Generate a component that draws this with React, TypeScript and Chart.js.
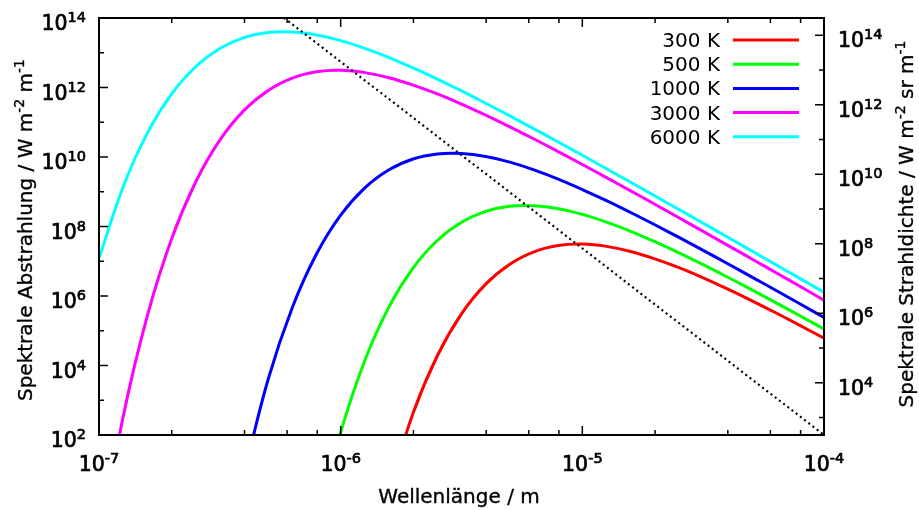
import React, { useEffect, useRef } from 'react';
import { Chart, registerables } from 'chart.js';

Chart.register(...registerables);

// Wellenlängen in m, zehn Stützstellen je Dekade von 1e-7 bis 1e-4
const wavelengths = [
  1.0e-7, 1.259e-7, 1.585e-7, 1.995e-7, 2.512e-7, 3.162e-7, 3.981e-7, 5.012e-7, 6.31e-7, 7.943e-7,
  1.0e-6, 1.259e-6, 1.585e-6, 1.995e-6, 2.512e-6, 3.162e-6, 3.981e-6, 5.012e-6, 6.31e-6, 7.943e-6,
  1.0e-5, 1.259e-5, 1.585e-5, 1.995e-5, 2.512e-5, 3.162e-5, 3.981e-5, 5.012e-5, 6.31e-5, 7.943e-5,
  1.0e-4,
];

const temperatureLabels = ['300 K', '500 K', '1000 K', '3000 K', '6000 K'];
const curveColors = ['#ff0000', '#00ff00', '#0000ff', '#ff00ff', '#00ffff'];

// Spektrale Abstrahlung in W m^-2 m^-1 (null = unterhalb des Diagramms)
const exitance300K = [
  null, null, null, null, null, null, null, null, null, null,
  null, null, 2.70, 4.31e2, 1.91e4, 3.06e5, 2.19e6, 8.26e6, 1.87e7, 2.83e7,
  3.12e7, 2.68e7, 1.91e7, 1.17e7, 6.52e6, 3.33e6, 1.60e6, 7.38e5, 3.29e5, 1.43e5,
  6.08e4,
];
const exitance500K = [
  null, null, null, null, null, null, null, null, null, 2.19e-1,
  1.19e2, 1.40e4, 4.88e5, 6.46e6, 3.96e7, 1.32e8, 2.72e8, 3.81e8, 3.95e8, 3.25e8,
  2.23e8, 1.34e8, 7.28e7, 3.66e7, 1.75e7, 7.98e6, 3.53e6, 1.52e6, 6.47e5, 2.71e5,
  1.12e5,
];
const exitance1000K = [
  null, null, null, null, null, null, 7.53, 4.03e3, 4.67e5, 1.61e7,
  2.11e8, 1.29e9, 4.28e9, 8.75e9, 1.22e10, 1.26e10, 1.04e10, 7.11e9, 4.27e9, 2.31e9,
  1.16e9, 5.55e8, 2.53e8, 1.12e8, 4.84e7, 2.06e7, 8.59e6, 3.56e6, 1.46e6, 5.96e5,
  2.42e5,
];
const exitance3000K = [
  5.55e-2, 3.37e2, 2.70e5, 4.31e7, 1.91e9, 3.06e10, 2.19e11, 8.26e11, 1.87e12, 2.83e12,
  3.12e12, 2.68e12, 1.91e12, 1.17e12, 6.52e11, 3.33e11, 1.60e11, 7.38e10, 3.29e10, 1.43e10,
  6.08e9, 2.55e9, 1.06e9, 4.36e8, 1.78e8, 7.23e7, 2.92e7, 1.18e7, 4.74e6, 1.90e6,
  7.62e5,
];
const exitance6000K = [
  1.19e7, 1.40e9, 4.88e10, 6.46e11, 3.96e12, 1.32e13, 2.72e13, 3.81e13, 3.95e13, 3.25e13,
  2.23e13, 1.34e13, 7.28e12, 3.66e12, 1.75e12, 7.98e11, 3.53e11, 1.52e11, 6.47e10, 2.71e10,
  1.12e10, 4.61e9, 1.88e9, 7.62e8, 3.08e8, 1.24e8, 4.99e7, 2.00e7, 8.02e6, 3.21e6,
  1.28e6,
];
const exitanceSeries = [exitance300K, exitance500K, exitance1000K, exitance3000K, exitance6000K];

// Gepunktete Linie durch die Maxima
const maximaLineLambda = [5.83e-7, 1.0e-4];
const maximaLineExitance = [1.0e14, 1.0e2];

// Achsen
const xRange = [1e-7, 1e-4];
const yRange = [1e2, 1e14];
const xDecades = [-7, -6, -5, -4];
const xMinorMantissas = [2, 4, 6, 8];
const yLeftTickDecades = [2, 3, 4, 5, 6, 7, 8, 9, 10, 11, 12, 13, 14];
const yLeftLabelDecades = [2, 4, 6, 8, 10, 12, 14];
const yRightTickDecades = [3, 4, 5, 6, 7, 8, 9, 10, 11, 12, 13, 14];
const yRightLabelDecades = [4, 6, 8, 10, 12, 14];

const xTitle = 'Wellenlänge / m';
type Run = { t: string; sup?: boolean };
const leftTitle: Run[] = [
  { t: 'Spektrale Abstrahlung / W m' }, { t: '-2', sup: true }, { t: ' m' }, { t: '-1', sup: true },
];
const rightTitle: Run[] = [
  { t: 'Spektrale Strahldichte / W m' }, { t: '-2', sup: true }, { t: ' sr m' }, { t: '-1', sup: true },
];

const FONT = '"DejaVu Sans", sans-serif';

type TextStyle = { size: number; supSize: number; raise: number; stroke: number };
const titleStyle: TextStyle = { size: 20, supSize: 14, raise: 8, stroke: 0.35 };
const legendStyle: TextStyle = { size: 20, supSize: 14, raise: 8, stroke: 0 };
const tickStyle: TextStyle = { size: 20.5, supSize: 14.5, raise: 8, stroke: 0.7 };

function drawRuns(
  ctx: CanvasRenderingContext2D,
  runs: Run[],
  x: number,
  y: number,
  align: 'left' | 'center' | 'right',
  st: TextStyle,
) {
  const fonts = runs.map((r) => `${r.sup ? st.supSize : st.size}px ${FONT}`);
  const widths = runs.map((r, i) => {
    ctx.font = fonts[i];
    return ctx.measureText(r.t).width;
  });
  const total = widths.reduce((s, w) => s + w, 0);
  let cx = align === 'left' ? x : align === 'right' ? x - total : x - total / 2;
  ctx.textAlign = 'left';
  ctx.textBaseline = 'alphabetic';
  ctx.fillStyle = '#000';
  ctx.strokeStyle = '#000';
  ctx.lineWidth = st.stroke;
  ctx.lineJoin = 'round';
  runs.forEach((r, i) => {
    ctx.font = fonts[i];
    const ty = r.sup ? y - st.raise : y;
    ctx.fillText(r.t, cx, ty);
    if (st.stroke > 0) ctx.strokeText(r.t, cx, ty);
    cx += widths[i];
  });
}

const powerLabel = (d: number): Run[] => [{ t: '10' }, { t: String(d), sup: true }];

const framePlugin = {
  id: 'gnuplotFrame',
  afterDatasetsDraw(chart: any) {
    const { ctx, chartArea: a } = chart;
    const sx = chart.scales.x;
    const sy = chart.scales.y;
    const sy2 = chart.scales.y2;
    ctx.save();
    ctx.strokeStyle = '#000';
    ctx.fillStyle = '#000';
    const seg = (x1: number, y1: number, x2: number, y2: number) => {
      ctx.beginPath();
      ctx.moveTo(x1, y1);
      ctx.lineTo(x2, y2);
      ctx.stroke();
    };

    // Teilstriche nach innen
    ctx.lineWidth = 1.5;
    xDecades.forEach((d, i) => {
      const p = sx.getPixelForValue(Math.pow(10, d));
      seg(p, a.bottom, p, a.bottom - 9);
      seg(p, a.top, p, a.top + 9);
      if (i < xDecades.length - 1) {
        xMinorMantissas.forEach((m) => {
          const q = sx.getPixelForValue(m * Math.pow(10, d));
          seg(q, a.bottom, q, a.bottom - 5);
          seg(q, a.top, q, a.top + 5);
        });
      }
    });
    yLeftTickDecades.forEach((d) => {
      const p = sy.getPixelForValue(Math.pow(10, d));
      seg(a.left, p, a.left + (d % 2 === 0 ? 9 : 5), p);
    });
    yRightTickDecades.forEach((d) => {
      const p = sy2.getPixelForValue(Math.pow(10, d));
      seg(a.right, p, a.right - (d % 2 === 0 ? 9 : 5), p);
    });

    // Rahmen
    ctx.lineWidth = 2;
    ctx.strokeRect(a.left, a.top, a.right - a.left, a.bottom - a.top);

    // Achsenbeschriftung
    xDecades.forEach((d) => {
      drawRuns(ctx, powerLabel(d), sx.getPixelForValue(Math.pow(10, d)), 471, 'center', tickStyle);
    });
    yLeftLabelDecades.forEach((d) => {
      drawRuns(ctx, powerLabel(d), a.left - 13, sy.getPixelForValue(Math.pow(10, d)) + 12, 'right', tickStyle);
    });
    yRightLabelDecades.forEach((d) => {
      drawRuns(ctx, powerLabel(d), a.right + 14, sy2.getPixelForValue(Math.pow(10, d)) + 12, 'left', tickStyle);
    });

    // Achsentitel
    drawRuns(ctx, [{ t: xTitle }], 459, 503, 'center', titleStyle);

    ctx.save();
    ctx.translate(32, 230);
    ctx.rotate(-Math.PI / 2);
    drawRuns(ctx, leftTitle, 0, 0, 'center', titleStyle);
    ctx.restore();

    ctx.save();
    ctx.translate(913, 224);
    ctx.rotate(-Math.PI / 2);
    drawRuns(ctx, rightTitle, 0, 0, 'center', titleStyle);
    ctx.restore();

    // Legende oben rechts
    temperatureLabels.forEach((label, i) => {
      const rowY = 40 + i * 24.2;
      drawRuns(ctx, [{ t: label }], 720, rowY + 7, 'right', legendStyle);
      ctx.strokeStyle = curveColors[i];
      ctx.lineWidth = 3;
      seg(733, rowY, 799, rowY);
    });

    ctx.restore();
  },
};

export default function App() {
  const canvasRef = useRef<HTMLCanvasElement | null>(null);

  useEffect(() => {
    const canvas = canvasRef.current;
    if (!canvas) return;

    const curves = exitanceSeries.map((values, i) => ({
      label: temperatureLabels[i],
      data: wavelengths
        .map((x, j) => ({ x, y: values[j] }))
        .filter((p) => p.y !== null),
      borderColor: curveColors[i],
      backgroundColor: curveColors[i],
      borderWidth: 3,
      pointRadius: 0,
      showLine: true,
      tension: 0.4,
      fill: false,
      order: 5 - i,
    }));

    const maximaLine = {
      label: 'Maxima',
      data: maximaLineLambda.map((x, j) => ({ x, y: maximaLineExitance[j] })),
      borderColor: '#000',
      borderWidth: 2.2,
      borderDash: [2, 3.3],
      pointRadius: 0,
      showLine: true,
      tension: 0,
      fill: false,
      order: -1,
    };

    const chart = new Chart(canvas, {
      type: 'scatter',
      data: { datasets: [...curves, maximaLine] as any },
      options: {
        responsive: false,
        animation: false,
        devicePixelRatio: 1,
        events: [],
        layout: { padding: { top: 18, left: 0, right: 0, bottom: 0 } },
        plugins: { legend: { display: false }, tooltip: { enabled: false } },
        scales: {
          x: {
            type: 'logarithmic',
            position: 'bottom',
            min: xRange[0],
            max: xRange[1],
            ticks: { display: false },
            grid: { display: false },
            border: { display: false },
            afterFit: (s: any) => { s.height = 75; },
          },
          y: {
            type: 'logarithmic',
            position: 'left',
            min: yRange[0],
            max: yRange[1],
            ticks: { display: false },
            grid: { display: false },
            border: { display: false },
            afterFit: (s: any) => { s.width = 99; },
          },
          // Strahldichte-Achse, um den Faktor pi gegen die Abstrahlung verschoben
          y2: {
            type: 'logarithmic',
            position: 'right',
            min: yRange[0] * Math.PI,
            max: yRange[1] * Math.PI,
            ticks: { display: false },
            grid: { display: false },
            border: { display: false },
            afterFit: (s: any) => { s.width = 95; },
          },
        },
      } as any,
      plugins: [framePlugin],
    });

    return () => chart.destroy();
  }, []);

  return (
    <div style={{ position: 'fixed', left: 0, top: 0, width: 919, height: 510, background: '#fff' }}>
      <canvas ref={canvasRef} width={919} height={510} style={{ display: 'block' }} />
    </div>
  );
}
